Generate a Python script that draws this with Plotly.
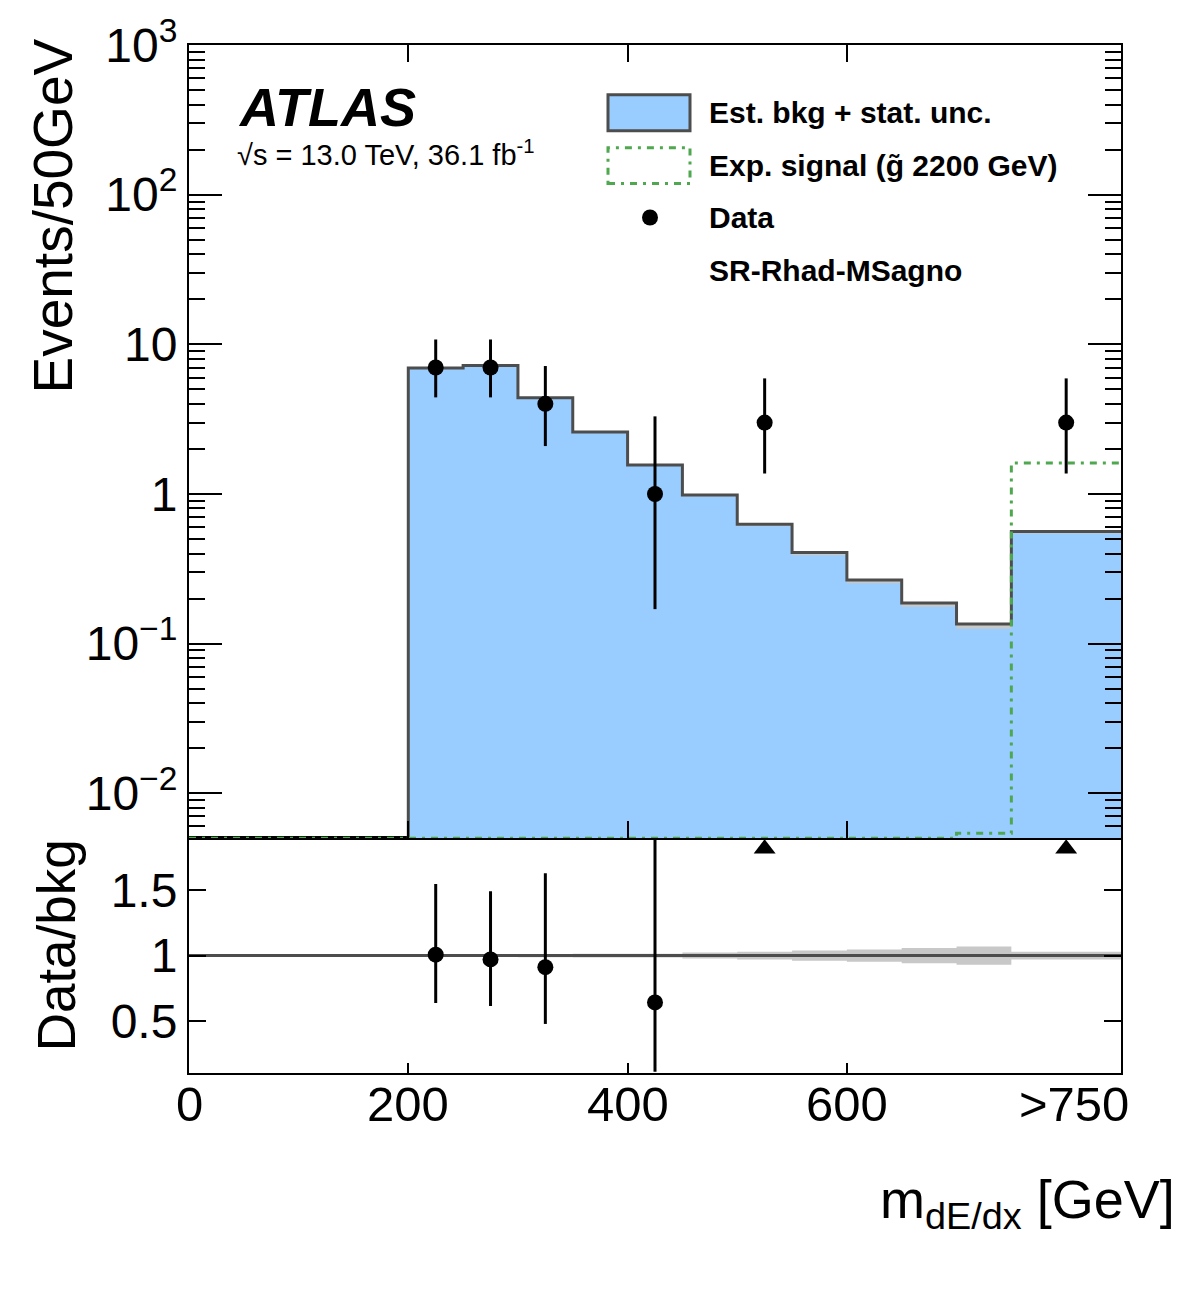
import numpy as np
import plotly.graph_objects as go

# ---------------- data ----------------
bin_edges = [0, 50, 100, 150, 200, 250, 300, 350, 400, 450, 500, 550, 600, 650, 700, 750, 850]
bkg = [0, 0, 0, 0, 6.95, 7.21, 4.39, 2.59, 1.56, 0.985, 0.628, 0.406, 0.266, 0.187, 0.135, 0.561]
bkg_rel_unc = [0, 0, 0, 0, 0.01, 0.01, 0.012, 0.015, 0.015, 0.023, 0.03, 0.04, 0.047, 0.058, 0.07, 0.03]
signal = [0, 0, 0, 0, 0, 0, 0, 0, 0, 0, 0, 0, 0, 0, 0.0054, 1.61]

data_x = [225, 275, 325, 425, 525, 800]
data_y = [7, 7, 4, 1, 3, 3]
data_err_up = [3.77, 3.77, 3.16, 2.30, 2.92, 2.92]
data_err_dn = [2.58, 2.58, 1.91, 0.83, 1.63, 1.63]

x_tick_vals = [0, 200, 400, 600]
x_label_pos = [0, 200, 400, 600, 807]
x_label_text = ["0", "200", "400", "600", ">750"]
y_tick_vals = [1e-2, 1e-1, 1, 10, 1e2, 1e3]
y_tick_text = ["10<sup>\u22122</sup>", "10<sup>\u22121</sup>", "1", "10", "10<sup>2</sup>", "10<sup>3</sup>"]
r_tick_vals = [0.5, 1, 1.5]
r_tick_text = ["0.5", "1", "1.5"]

# ---------------- style ----------------
FONT = "Liberation Sans, Arial, Helvetica, sans-serif"
BLUE = "#99ccff"
DARK = "#4d4d4d"
GREEN = "#4fa84f"
BAND = "#c8c8c8"
W, H = 1182, 1311
L, R, T, B = 189, 1121, 42, 1073
SPLIT = 837.5
YLOG_RANGE = [-2.3, 3]
R_RANGE = [0.1, 1.9]


def px(x):
    return (x - L) / (R - L)


def py(y):
    return (B - y) / (B - T)


edges = np.array(bin_edges, dtype=float)
bk = np.array(bkg, dtype=float)
unc = np.array(bkg_rel_unc, dtype=float)
sig = np.array(signal, dtype=float)
floor = 10 ** (YLOG_RANGE[0] - 1)
sig_floor = 10 ** YLOG_RANGE[0]


def steps(vals):
    xs = np.repeat(edges, 2)[1:-1]
    ys = np.repeat(vals, 2)
    return xs, ys


fig = go.Figure()

# ---- upper panel ----
xs, ys = steps(np.where(bk > 0, bk, floor))
fig.add_trace(go.Scatter(
    x=np.concatenate([[edges[0]], xs, [edges[-1]]]),
    y=np.concatenate([[floor], ys, [floor]]),
    mode="none", fill="toself", fillcolor=BLUE,
    xaxis="x2", yaxis="y2", hoverinfo="skip", showlegend=False))

# stat. unc. band (lower half visible under the outline)
nz = bk > 0
first = int(np.argmax(nz))
sub_edges = edges[first:]
bx = np.repeat(sub_edges, 2)[1:-1]
b_hi = np.repeat(bk[first:], 2)
b_lo = np.repeat(bk[first:] * (1 - unc[first:]), 2)
fig.add_trace(go.Scatter(
    x=np.concatenate([bx, bx[::-1]]),
    y=np.concatenate([b_hi, b_lo[::-1]]),
    mode="none", fill="toself", fillcolor=BAND,
    xaxis="x2", yaxis="y2", hoverinfo="skip", showlegend=False))

# bkg outline
fig.add_trace(go.Scatter(
    x=np.concatenate([[edges[0]], xs]),
    y=np.concatenate([[floor], ys]),
    mode="lines", line=dict(color=DARK, width=3),
    xaxis="x2", yaxis="y2", hoverinfo="skip", showlegend=False))

# signal
sx, sy = steps(np.where(sig > 0, sig, sig_floor))
fig.add_trace(go.Scatter(
    x=sx, y=sy,
    mode="lines", line=dict(color=GREEN, width=3, dash="7px,6px,3px,6px"),
    xaxis="x2", yaxis="y2", hoverinfo="skip", showlegend=False))

# data
fig.add_trace(go.Scatter(
    x=data_x, y=data_y, mode="markers",
    marker=dict(color="black", size=16),
    error_y=dict(type="data", symmetric=False, array=data_err_up, arrayminus=data_err_dn,
                 thickness=3, width=0, color="black"),
    xaxis="x2", yaxis="y2", hoverinfo="skip", showlegend=False))

# ---- ratio panel ----
rx = np.repeat(edges, 2)[1:-1]
r_up = np.repeat(1 + unc, 2)
r_dn = np.repeat(1 - unc, 2)
fig.add_trace(go.Scatter(
    x=np.concatenate([rx, rx[::-1]]),
    y=np.concatenate([r_up, r_dn[::-1]]),
    mode="none", fill="toself", fillcolor=BAND,
    xaxis="x", yaxis="y", hoverinfo="skip", showlegend=False))
fig.add_trace(go.Scatter(
    x=[edges[0], edges[-1]], y=[1, 1], mode="lines",
    line=dict(color=DARK, width=3),
    xaxis="x", yaxis="y", hoverinfo="skip", showlegend=False))

dx = np.array(data_x, dtype=float)
idx = np.searchsorted(edges, dx, side="right") - 1
bk_at = bk[idx]
ratio = np.array(data_y) / bk_at
r_eu = np.array(data_err_up) / bk_at
r_ed = np.array(data_err_dn) / bk_at
inside = ratio <= R_RANGE[1]
fig.add_trace(go.Scatter(
    x=dx[inside], y=ratio[inside], mode="markers",
    marker=dict(color="black", size=16),
    error_y=dict(type="data", symmetric=False, array=r_eu[inside], arrayminus=r_ed[inside],
                 thickness=3, width=0, color="black"),
    xaxis="x", yaxis="y", hoverinfo="skip", showlegend=False))
arrow_y = R_RANGE[1] - 0.08
fig.add_trace(go.Scatter(
    x=dx[~inside], y=[arrow_y] * int((~inside).sum()), mode="markers",
    marker=dict(color="black", size=19, symbol="triangle-up"),
    xaxis="x", yaxis="y", hoverinfo="skip", showlegend=False))

split_frac = py(SPLIT)
axis_common = dict(showgrid=False, zeroline=False, linecolor="black", linewidth=2,
                   ticks="inside", tickcolor="black", tickwidth=2,
                   tickfont=dict(family=FONT, size=48, color="black"))

fig.update_layout(
    width=W, height=H,
    margin=dict(l=L, r=W - R, t=T, b=H - B),
    paper_bgcolor="white", plot_bgcolor="white",
    font=dict(family=FONT, color="black"),
    showlegend=False,
    xaxis=dict(domain=[0, 1], anchor="y", range=[edges[0], edges[-1]],
               tickmode="array", tickvals=x_tick_vals, showticklabels=False,
               ticklen=10, mirror=True, **axis_common),
    yaxis=dict(domain=[0, split_frac], anchor="x", range=R_RANGE,
               tickmode="array", tickvals=r_tick_vals, ticktext=r_tick_text,
               ticklen=17, mirror="ticks", **axis_common),
    xaxis2=dict(domain=[0, 1], anchor="y2", matches="x", range=[edges[0], edges[-1]],
                tickmode="array", tickvals=x_tick_vals[1:], showticklabels=False,
                ticklen=17, mirror="ticks", **axis_common),
    yaxis2=dict(domain=[split_frac, 1], anchor="x2", type="log", range=YLOG_RANGE,
                tickmode="array", tickvals=y_tick_vals, ticktext=y_tick_text,
                ticklen=33, mirror="ticks",
                minor=dict(tickmode="array",
                           tickvals=[k * 10.0 ** e for e in range(-3, 3) for k in range(2, 10)],
                           ticks="inside", ticklen=16, tickwidth=2, tickcolor="black"),
                **axis_common),
)

ann = []
# x tick labels
for xv, xt in zip(x_label_pos, x_label_text):
    ann.append(dict(x=xv, xref="x", y=py(1104), yref="paper", text=xt,
                    showarrow=False, xanchor="center", yanchor="middle",
                    font=dict(family=FONT, size=49, color="black")))
# axis titles
ann.append(dict(x=px(53), y=py(214), xref="paper", yref="paper", text="Events/50GeV",
                textangle=-90, showarrow=False, xanchor="center", yanchor="middle",
                font=dict(family=FONT, size=55, color="black")))
ann.append(dict(x=px(56), y=py(945), xref="paper", yref="paper", text="Data/bkg",
                textangle=-90, showarrow=False, xanchor="center", yanchor="middle",
                font=dict(family=FONT, size=53, color="black")))
ann.append(dict(x=px(1177), y=py(1203), xref="paper", yref="paper",
                text="m<sub>dE/dx</sub> [GeV]",
                showarrow=False, xanchor="right", yanchor="middle",
                font=dict(family=FONT, size=54, color="black")))
# ATLAS label
ann.append(dict(x=px(237), y=py(104), xref="paper", yref="paper",
                text="<b><i>ATLAS</i></b>", showarrow=False, xanchor="left", yanchor="middle",
                font=dict(family=FONT, size=54, color="black"), borderpad=0))
ann.append(dict(x=px(236), y=py(150), xref="paper", yref="paper",
                text="\u221as = 13.0 TeV, 36.1 fb<sup>-1</sup>", showarrow=False,
                xanchor="left", yanchor="middle",
                font=dict(family=FONT, size=29, color="black"), borderpad=0))
# legend texts
leg_rows = [110, 163, 215, 268]
leg_texts = ["Est. bkg + stat. unc.", "Exp. signal (g\u0303 2200 GeV)", "Data", "SR-Rhad-MSagno"]
for yy, tt in zip(leg_rows, leg_texts):
    ann.append(dict(x=px(707), y=py(yy), xref="paper", yref="paper", text="<b>" + tt + "</b>",
                    showarrow=False, xanchor="left", yanchor="middle",
                    font=dict(family=FONT, size=30, color="black")))
fig.update_layout(annotations=ann)

shapes = [
    dict(type="rect", xref="paper", yref="paper", x0=px(608), x1=px(690), y0=py(128), y1=py(92),
         fillcolor=BLUE, line=dict(color=DARK, width=3)),
    dict(type="rect", xref="paper", yref="paper", x0=px(608), x1=px(690), y0=py(181), y1=py(145),
         fillcolor="rgba(0,0,0,0)", line=dict(color=GREEN, width=3, dash="7px,6px,3px,6px")),
    dict(type="circle", xref="paper", yref="paper", x0=px(642), x1=px(658), y0=py(223), y1=py(207),
         fillcolor="black", line=dict(color="black", width=0)),
]
fig.update_layout(shapes=shapes)

fig.write_html("out.html")
